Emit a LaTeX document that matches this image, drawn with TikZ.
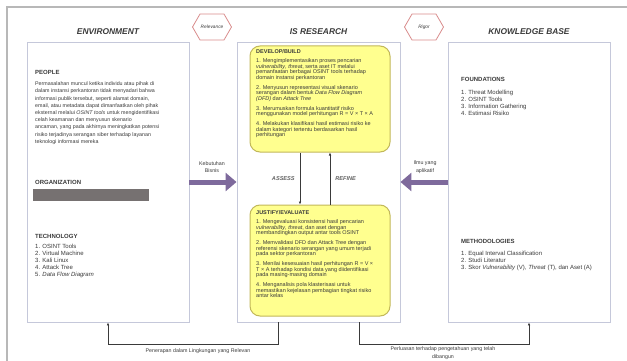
\documentclass[tikz,border=0pt]{standalone}
\usepackage{fontspec}
\setmainfont{Liberation Sans}
\usetikzlibrary{positioning, arrows.meta, shapes.symbols}

\definecolor{panelline}{HTML}{C5C8DA}
\definecolor{notefill}{HTML}{FFFF8F}
\definecolor{noteline}{HTML}{C2B85A}
\definecolor{flowpurple}{HTML}{7E6A9C}
\definecolor{tagline}{HTML}{D98C8C}
\definecolor{ink}{HTML}{3A3A3A}
\definecolor{frameline}{HTML}{B8B8B8}
\definecolor{redact}{HTML}{767171}

\begin{document}
\begin{tikzpicture}[x = 1pt, y = -1pt, > = {Latex[length = 3pt, width = 2.6pt]},
	panel/.style = {draw = panelline, line width = 0.9pt, fill = white, minimum width = 162pt, minimum height = 280pt, inner sep = 0},
	note/.style = {draw = noteline, line width = 1pt, fill = notefill, rounded corners = 10pt, minimum width = 140pt, inner sep = 0},
	tag/.style = {signal, signal to = west and east, signal pointer angle = 120, draw = tagline, line width = 0.8pt, fill = white, minimum width = 39pt, minimum height = 26pt, inner sep = 0, font = \fontsize{4.8}{5}\selectfont\itshape, text = ink},
	title/.style = {font = \fontsize{8.4}{9}\selectfont\bfseries\itshape, text = ink, inner sep = 1pt},
	head/.style = {font = \fontsize{6}{6.5}\selectfont\bfseries, text = ink, inner sep = 0, anchor = north west},
	body/.style = {font = \fontsize{5.3}{7.2}\selectfont, text = ink, inner sep = 0, anchor = north west, align = left},
	list/.style = {font = \fontsize{6}{7}\selectfont, text = ink, inner sep = 0, anchor = north west, align = left},
	notehead/.style = {font = \fontsize{5.5}{6}\selectfont\bfseries, text = ink, inner sep = 0, anchor = north west},
	notebody/.style = {font = \fontsize{5.5}{5.5}\selectfont, text = ink, inner sep = 0, anchor = north west, align = left},
	flow/.style = {draw = flowpurple, line width = 5pt, -{Triangle[length = 11pt, width = 18pt]}},
	flowlabel/.style = {font = \fontsize{5.3}{7.4}\selectfont, text = ink, inner sep = 0, align = center},
	conn/.style = {draw = ink, line width = 0.6pt, ->},
	loopword/.style = {font = \fontsize{5.6}{6}\selectfont\bfseries\itshape, text = ink!80, inner sep = 0}]

	% Page and frame

	\useasboundingbox (0, 0) rectangle (627, 361);
	\draw [frameline, line width = 1.2pt] (7, 361) -- (7, 7) -- (627, 7);

	% Three panels

	\node [panel] (env) at (108, 182) {};
	\node [panel, minimum width = 163pt] (research) at (318.5, 182) {};
	\node [panel] (kb) at (529, 182) {};

	\node [title, above = 6pt of env] (envtitle) {ENVIRONMENT};
	\node [title, above = 6pt of research] (restitle) {IS RESEARCH};
	\node [title, above = 6pt of kb] (kbtitle) {KNOWLEDGE BASE};

	\node [tag] (relevance) at (212, 27) {Relevance};
	\node [tag] (rigor) at (424, 27) {Rigor};

	% Environment contents

	\node [head] (people) at (35, 70.3) {PEOPLE};
	\node [body] (peopletxt) at (35, 81.6) {Permasalahan muncul ketika individu atau pihak di\\
		dalam instansi perkantoran tidak menyadari bahwa\\
		informasi publik tersebut, seperti alamat domain,\\
		email, atau metadata dapat dimanfaatkan oleh pihak\\
		eksternal melalui \textit{OSINT tools} untuk mengidentifikasi\\
		celah keamanan dan menyusun skenario\\
		ancaman, yang pada akhirnya meningkatkan potensi\\
		risiko terjadinya serangan siber terhadap layanan\\
		teknologi informasi mereka};

	\node [head] (org) at (35, 180.3) {ORGANIZATION};
	\node [fill = redact, minimum width = 116pt, minimum height = 12pt, inner sep = 0] (orgbar) at (91, 195) {};

	\node [head] (tech) at (35, 234.3) {TECHNOLOGY};
	\node [list] (techtxt) at (35, 244.4) {1. OSINT Tools\\
		2. Virtual Machine\\
		3. Kali Linux\\
		4. Attack Tree\\
		5. \textit{Data Flow Diagram}};

	% Research contents

	\node [note, minimum height = 106pt] (build) at (320, 99) {};
	\node [note, minimum height = 111pt] (eval) at (320, 260.5) {};

	\node [notehead] (buildhead) at (256, 49.5) {DEVELOP/BUILD};
	\node [notebody] (buildtxt) at (256, 58.5) {1. Mengimplementasikan proses pencarian\\
		\textit{vulnerability}, \textit{threat}, serta aset IT melalui\\
		pemanfaatan berbagai OSINT tools terhadap\\
		domain instansi perkantoran\\[4.5pt]
		2. Menyusun representasi visual skenario\\
		serangan dalam bentuk \textit{Data Flow Diagram}\\
		\textit{(DFD)} dan \textit{Attack Tree}\\[4.5pt]
		3. Merumuskan formula kuantitatif risiko\\
		menggunakan model perhitungan R = V × T × A\\[4.5pt]
		4. Melakukan klasifikasi hasil estimasi risiko ke\\
		dalam kategori tertentu berdasarkan hasil\\
		perhitungan};

	\node [notehead] (evalhead) at (256, 210.5) {JUSTIFY/EVALUATE};
	\node [notebody] (evaltxt) at (256, 219.5) {1. Mengevaluasi konsistensi hasil pencarian\\
		\textit{vulnerability}, \textit{threat}, dan aset dengan\\
		membandingkan output antar tools OSINT\\[4.5pt]
		2. Memvalidasi DFD dan Attack Tree dengan\\
		referensi skenario serangan yang umum terjadi\\
		pada sektor perkantoran\\[4.5pt]
		3. Menilai kesesuaian hasil perhitungan R = V ×\\
		T × A terhadap kondisi data yang diidentifikasi\\
		pada masing-masing domain\\[4.5pt]
		4. Menganalisis pola klasterisasi untuk\\
		memastikan kejelasan pembagian tingkat risiko\\
		antar kelas};

	% Assess / refine loop

	\draw [conn] ([xshift = -20pt] build.south) -- node [loopword, left = 5pt] (assess) {ASSESS} ([xshift = -20pt] eval.north);
	\draw [conn] ([xshift = 10pt] eval.north) -- node [loopword, right = 5pt] (refine) {REFINE} ([xshift = 10pt] build.south);

	% Knowledge base contents

	\node [head] (found) at (461, 77.3) {FOUNDATIONS};
	\node [list] (foundtxt) at (461, 90.4) {1. Threat Modelling\\
		2. OSINT Tools\\
		3. Information Gathering\\
		4. Estimasi Risiko};

	\node [head] (method) at (461, 239.3) {METHODOLOGIES};
	\node [list] (methodtxt) at (461, 251.4) {1. Equal Interval Classification\\
		2. Studi Literatur\\
		3. Skor \textit{Vulnerability} (V), \textit{Threat} (T), dan Aset (A)};

	% Relevance and rigor flows

	\draw [flow] (env.east) -- (research.west);
	\draw [flow] (kb.west) -- (research.east);
	\node [flowlabel] (need) at (212, 167) {Kebutuhan\\Bisnis};
	\node [flowlabel] (applied) at (425, 167) {Ilmu yang\\aplikatif};

	% Feedback to environment and knowledge base

	\draw [conn] ([xshift = 42pt] research.south west) -- ++(0, 22) -| (env.south);
	\draw [conn] ([xshift = -41pt] research.south east) -- ++(0, 22) -| (kb.south);
	\node [flowlabel] (applylbl) at (198, 351) {Penerapan dalam Lingkungan yang Relevan};
	\node [flowlabel, font = \fontsize{5.3}{8}\selectfont] (addlbl) at (443, 353) {Perluasan terhadap pengetahuan yang telah\\dibangun};

\end{tikzpicture}
\end{document}
